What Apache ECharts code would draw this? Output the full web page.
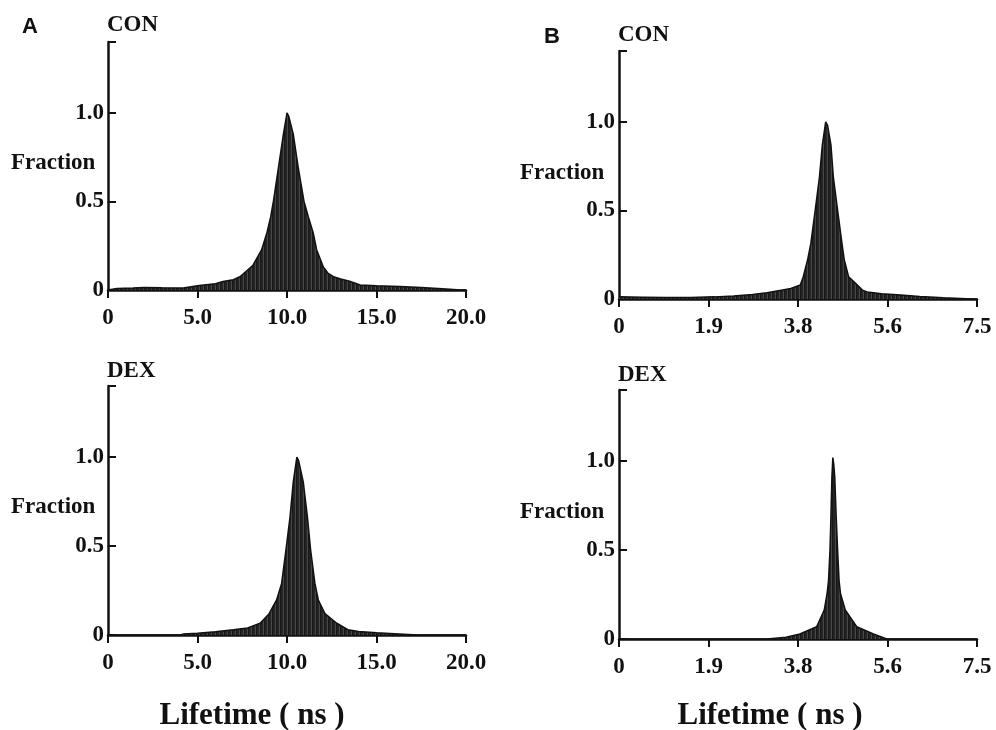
<!DOCTYPE html>
<html>
<head>
<meta charset="utf-8">
<script src="https://cdn.jsdelivr.net/npm/echarts@6/dist/echarts.min.js"></script>
<style>
html,body{margin:0;padding:0;background:#fff;}
#chart{width:996px;height:730px;}
</style>
</head>
<body>
<div id="chart"></div>
<script>
// ---- Data ----
// Panel A (0-20 ns), CON
const conA_x = [0, 0.5, 1.4, 2.0, 3.0, 4.2, 5.1, 6.0, 6.43, 7.0, 7.37, 8.1, 8.58, 8.87, 9.09, 9.24, 9.52, 9.8, 10.0, 10.1, 10.35, 10.63, 10.95, 11.19, 11.47, 11.66, 12.03, 12.3, 12.6, 13.0, 13.5, 14.08, 15.0, 16.3, 17.5, 18.9, 19.7, 20.0];
const conA_y = [0, 0.008, 0.011, 0.014, 0.012, 0.011, 0.025, 0.035, 0.048, 0.058, 0.075, 0.14, 0.226, 0.32, 0.414, 0.5, 0.69, 0.88, 1.0, 0.98, 0.88, 0.69, 0.5, 0.414, 0.32, 0.226, 0.13, 0.094, 0.075, 0.062, 0.05, 0.028, 0.024, 0.02, 0.014, 0.006, 0, 0];
// Panel A, DEX
const dexA_x = [0, 4.0, 4.2, 5.0, 6.0, 7.0, 7.8, 8.5, 9.0, 9.42, 9.7, 9.94, 10.17, 10.35, 10.55, 10.65, 10.91, 11.14, 11.32, 11.56, 11.75, 12.12, 12.78, 13.4, 14.0, 15.0, 16.0, 17.3, 20.0];
const dexA_y = [0, 0, 0.005, 0.01, 0.018, 0.03, 0.04, 0.066, 0.12, 0.197, 0.29, 0.477, 0.665, 0.86, 1.0, 0.98, 0.86, 0.665, 0.477, 0.29, 0.197, 0.12, 0.066, 0.03, 0.02, 0.012, 0.007, 0, 0];
// Panel B (0-7.5 ns), CON
const conB_x = [0, 0.5, 1.0, 1.5, 2.0, 2.4, 2.8, 3.1, 3.4, 3.6, 3.8, 3.86, 3.95, 4.02, 4.11, 4.2, 4.26, 4.33, 4.37, 4.44, 4.49, 4.58, 4.67, 4.72, 4.81, 4.95, 5.1, 5.2, 5.5, 5.9, 6.3, 6.8, 7.4, 7.5];
const conB_y = [0.012, 0.01, 0.008, 0.009, 0.012, 0.017, 0.025, 0.035, 0.05, 0.06, 0.08, 0.126, 0.22, 0.315, 0.5, 0.69, 0.87, 1.0, 0.98, 0.87, 0.69, 0.5, 0.315, 0.22, 0.126, 0.09, 0.05, 0.04, 0.03, 0.022, 0.014, 0.007, 0, 0];
// Panel B, DEX
const dexB_x = [0, 3.1, 3.5, 3.79, 4.14, 4.3, 4.36, 4.39, 4.42, 4.44, 4.46, 4.48, 4.50, 4.52, 4.55, 4.58, 4.61, 4.64, 4.74, 4.98, 5.33, 5.61, 7.5];
const dexB_y = [0, 0, 0.01, 0.028, 0.069, 0.163, 0.256, 0.33, 0.5, 0.69, 0.91, 1.02, 0.98, 0.91, 0.69, 0.5, 0.33, 0.256, 0.163, 0.069, 0.028, 0, 0];

// Tick labels
const xTicksA = [0, 5, 10, 15, 20];
const xLabelsA = ['0', '5.0', '10.0', '15.0', '20.0'];
const xTicksB = [0, 1.875, 3.75, 5.625, 7.5];
const xLabelsB = ['0', '1.9', '3.8', '5.6', '7.5'];
const yTicks = [0, 0.5, 1.0];
const yLabels = ['0', '0.5', '1.0'];

// Text
const panelLetters = ['A', 'B'];
const groupNames = ['CON', 'DEX'];
const yName = 'Fraction';
const xName = 'Lifetime ( ns )';

// ---- Build chart ----
const FONT = "'Liberation Serif', 'Times New Roman', serif";
const SANS = "'Liberation Sans', Arial, sans-serif";
const zip = (xs, ys) => xs.map((x, i) => [x, ys[i]]);

const pc = document.createElement('canvas');
pc.width = 4; pc.height = 4;
const pctx = pc.getContext('2d');
['#181818', '#222222', '#262626', '#474747'].forEach((c, i) => { pctx.fillStyle = c; pctx.fillRect(i, 0, 1, 4); });

const grids = [
  {left: 108, top: 42, width: 358, height: 248},
  {left: 619, top: 51, width: 358, height: 248},
  {left: 108, top: 386, width: 358, height: 249},
  {left: 619, top: 390, width: 358, height: 249}
];

function labelFor(ticks, labels) {
  return function (v) {
    for (let i = 0; i < ticks.length; i++) {
      if (Math.abs(ticks[i] - v) < 1e-6) return labels[i];
    }
    return '';
  };
}

const panelDefs = [
  {x: conA_x, y: conA_y, max: 20, interval: 5, ticks: xTicksA, labels: xLabelsA},
  {x: conB_x, y: conB_y, max: 7.5, interval: 1.875, ticks: xTicksB, labels: xLabelsB},
  {x: dexA_x, y: dexA_y, max: 20, interval: 5, ticks: xTicksA, labels: xLabelsA},
  {x: dexB_x, y: dexB_y, max: 7.5, interval: 1.875, ticks: xTicksB, labels: xLabelsB}
];

const axisLine = {show: true, onZero: false, lineStyle: {color: '#111', width: 2.5}};
const xAxis = panelDefs.map((p, i) => ({
  type: 'value', gridIndex: i, min: 0, max: p.max, interval: p.interval,
  axisLine: axisLine,
  axisTick: {show: true, inside: false, length: 8, lineStyle: {color: '#111', width: 2}},
  splitLine: {show: false},
  axisLabel: {formatter: labelFor(p.ticks, p.labels), fontFamily: FONT, fontWeight: 'bold', fontSize: 23, color: '#111', margin: 17, showMinLabel: true, showMaxLabel: true}
}));
const yAxis = panelDefs.map((p, i) => ({
  type: 'value', gridIndex: i, min: 0, max: 1.4, interval: 0.5,
  axisLine: axisLine,
  axisTick: {show: true, inside: true, length: 8, lineStyle: {color: '#111', width: 2}},
  splitLine: {show: false},
  axisLabel: {formatter: labelFor(yTicks, yLabels), fontFamily: FONT, fontWeight: 'bold', fontSize: 23, color: '#111', margin: 4}
}));
const series = panelDefs.map((p, i) => ({
  type: 'line', xAxisIndex: i, yAxisIndex: i,
  data: zip(p.x, p.y), showSymbol: false, symbol: 'none', smooth: false,
  lineStyle: {color: '#111', width: 1.5},
  areaStyle: {color: {image: pc, repeat: 'repeat'}, opacity: 1},
  silent: true, animation: false
}));

const txt = (x, y, text, size, family, align) => ({
  type: 'text', x: x, y: y,
  style: {text: text, fill: '#111', font: 'bold ' + size + 'px ' + family, textAlign: align || 'left', textVerticalAlign: 'middle'}
});
const graphic = [
  txt(22, 27, panelLetters[0], 22, SANS),
  txt(544, 37, panelLetters[1], 22, SANS),
  txt(107, 25, groupNames[0], 23, FONT),
  txt(618, 35, groupNames[0], 23, FONT),
  txt(107, 371, groupNames[1], 23, FONT),
  txt(618, 375, groupNames[1], 23, FONT),
  txt(11, 163, yName, 23, FONT),
  txt(520, 173, yName, 23, FONT),
  txt(11, 507, yName, 23, FONT),
  txt(520, 512, yName, 23, FONT),
  txt(252, 716, xName, 31, FONT, 'center'),
  txt(770, 716, xName, 31, FONT, 'center')
];

const chart = echarts.init(document.getElementById('chart'), null, {renderer: 'canvas'});
chart.setOption({
  backgroundColor: '#ffffff',
  animation: false,
  grid: grids,
  xAxis: xAxis,
  yAxis: yAxis,
  series: series,
  graphic: graphic
});
</script>
</body>
</html>
